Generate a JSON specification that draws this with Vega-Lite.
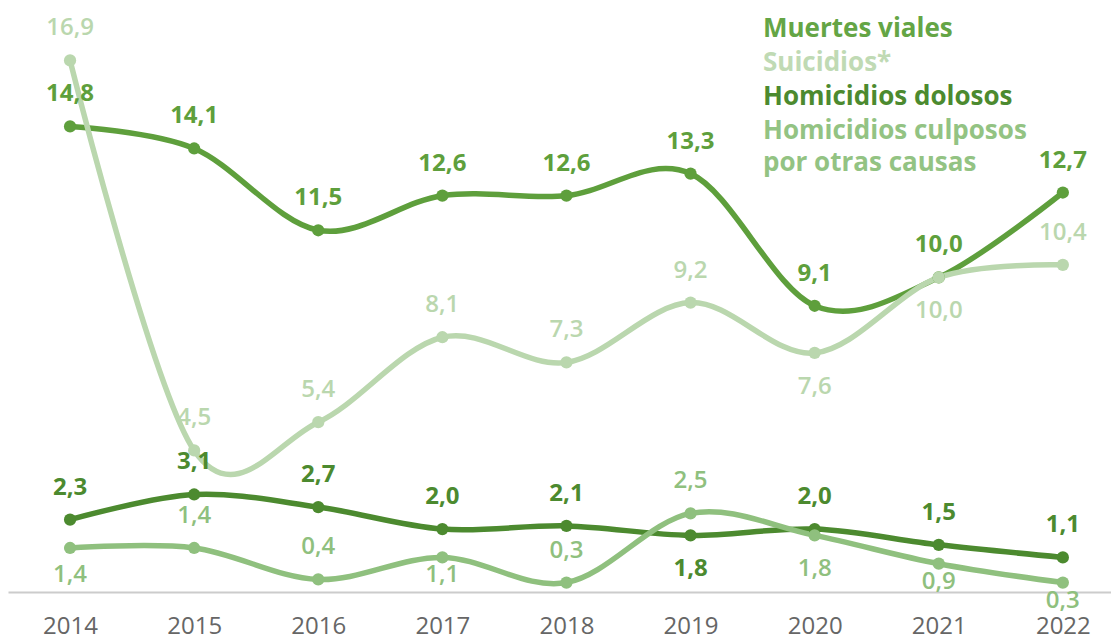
{
  "$schema": "https://vega.github.io/schema/vega-lite/v6.json",
  "width": 1103,
  "height": 592,
  "autosize": {"type": "none"},
  "padding": {"left": 8, "top": 0, "right": 0, "bottom": 49},
  "background": "white",
  "config": {
    "view": {"stroke": null},
    "locale": {"number": {"decimal": ",", "thousands": ".", "grouping": [3], "currency": ["", " €"]}},
    "font": "Open Sans"
  },
  "data": {"values": [
    {"anio": 2014, "serie": "Muertes viales", "valor": 14.8},
    {"anio": 2015, "serie": "Muertes viales", "valor": 14.1},
    {"anio": 2016, "serie": "Muertes viales", "valor": 11.5},
    {"anio": 2017, "serie": "Muertes viales", "valor": 12.6},
    {"anio": 2018, "serie": "Muertes viales", "valor": 12.6},
    {"anio": 2019, "serie": "Muertes viales", "valor": 13.3},
    {"anio": 2020, "serie": "Muertes viales", "valor": 9.1},
    {"anio": 2021, "serie": "Muertes viales", "valor": 10.0},
    {"anio": 2022, "serie": "Muertes viales", "valor": 12.7},
    {"anio": 2014, "serie": "Suicidios", "valor": 16.9},
    {"anio": 2015, "serie": "Suicidios", "valor": 4.5},
    {"anio": 2016, "serie": "Suicidios", "valor": 5.4},
    {"anio": 2017, "serie": "Suicidios", "valor": 8.1},
    {"anio": 2018, "serie": "Suicidios", "valor": 7.3},
    {"anio": 2019, "serie": "Suicidios", "valor": 9.2},
    {"anio": 2020, "serie": "Suicidios", "valor": 7.6},
    {"anio": 2021, "serie": "Suicidios", "valor": 10.0},
    {"anio": 2022, "serie": "Suicidios", "valor": 10.4},
    {"anio": 2014, "serie": "Homicidios dolosos", "valor": 2.3},
    {"anio": 2015, "serie": "Homicidios dolosos", "valor": 3.1},
    {"anio": 2016, "serie": "Homicidios dolosos", "valor": 2.7},
    {"anio": 2017, "serie": "Homicidios dolosos", "valor": 2.0},
    {"anio": 2018, "serie": "Homicidios dolosos", "valor": 2.1},
    {"anio": 2019, "serie": "Homicidios dolosos", "valor": 1.8},
    {"anio": 2020, "serie": "Homicidios dolosos", "valor": 2.0},
    {"anio": 2021, "serie": "Homicidios dolosos", "valor": 1.5},
    {"anio": 2022, "serie": "Homicidios dolosos", "valor": 1.1},
    {"anio": 2014, "serie": "Homicidios culposos por otras causas", "valor": 1.4},
    {"anio": 2015, "serie": "Homicidios culposos por otras causas", "valor": 1.4},
    {"anio": 2016, "serie": "Homicidios culposos por otras causas", "valor": 0.4},
    {"anio": 2017, "serie": "Homicidios culposos por otras causas", "valor": 1.1},
    {"anio": 2018, "serie": "Homicidios culposos por otras causas", "valor": 0.3},
    {"anio": 2019, "serie": "Homicidios culposos por otras causas", "valor": 2.5},
    {"anio": 2020, "serie": "Homicidios culposos por otras causas", "valor": 1.8},
    {"anio": 2021, "serie": "Homicidios culposos por otras causas", "valor": 0.9},
    {"anio": 2022, "serie": "Homicidios culposos por otras causas", "valor": 0.3}
  ]},
  "encoding": {
    "x": {
      "field": "anio", "type": "quantitative",
      "scale": {"domain": [2013.5, 2022.388], "nice": false, "zero": false},
      "axis": {
        "values": [2014, 2015, 2016, 2017, 2018, 2019, 2020, 2021, 2022],
        "format": "d", "title": null, "grid": false, "ticks": false,
        "labelFontSize": 24, "labelColor": "#666666", "labelFont": "Open Sans",
        "labelPadding": 22, "domainColor": "#cccccc", "domainWidth": 2
      }
    },
    "y": {
      "field": "valor", "type": "quantitative",
      "scale": {"domain": [0, 18.82], "nice": false, "zero": true},
      "axis": null
    },
    "color": {
      "field": "serie", "type": "nominal",
      "scale": {
        "domain": ["Muertes viales", "Suicidios", "Homicidios dolosos", "Homicidios culposos por otras causas"],
        "range": ["#5e9f3c", "#bad7ae", "#4c8a2f", "#8fc07e"]
      },
      "legend": null
    }
  },
  "layer": [
    {
      "mark": {"type": "line", "interpolate": "cardinal", "strokeWidth": 5.5},
      "encoding": {
        "color": {
          "field": "serie", "type": "nominal",
          "legend": {
            "orient": "none", "legendX": 729, "legendY": 16, "padding": 0,
            "title": null, "symbolSize": 0, "symbolStrokeWidth": 0, "symbolOpacity": 0,
            "labelOffset": 0, "labelLimit": 500, "labelFontSize": 26, "labelFont": "Open Sans",
            "labelFontWeight": "bold", "rowPadding": 8,
            "labelExpr": "datum.label == 'Suicidios' ? 'Suicidios*' : (datum.label == 'Homicidios culposos por otras causas' ? ['Homicidios culposos', 'por otras causas'] : datum.label)",
            "labelColor": {"expr": "datum.value == 'Muertes viales' ? '#64a545' : (datum.value == 'Suicidios' ? '#c0dab4' : (datum.value == 'Homicidios dolosos' ? '#4c8a2f' : '#93c383'))"},
            "encode": {"labels": {"update": {"lineHeight": {"value": 32}}}}
          }
        }
      }
    },
    {"mark": {"type": "point", "filled": true, "size": 150, "opacity": 1}},
    {
      "transform": [{"filter": "(datum.serie == 'Muertes viales') || (datum.serie == 'Homicidios dolosos' && datum.anio != 2019)"}],
      "mark": {"type": "text", "fontSize": 24, "fontWeight": "bold", "baseline": "alphabetic", "dy": -25},
      "encoding": {"text": {"field": "valor", "type": "quantitative", "format": ".1f"}}
    },
    {
      "transform": [{"filter": "datum.serie == 'Homicidios dolosos' && datum.anio == 2019"}],
      "mark": {"type": "text", "fontSize": 24, "fontWeight": "bold", "baseline": "alphabetic", "dy": 41},
      "encoding": {"text": {"field": "valor", "type": "quantitative", "format": ".1f"}}
    },
    {
      "transform": [{"filter": "(datum.serie == 'Suicidios' && datum.anio != 2020 && datum.anio != 2021) || (datum.serie == 'Homicidios culposos por otras causas' && (datum.anio == 2015 || datum.anio == 2016 || datum.anio == 2018 || datum.anio == 2019))"}],
      "mark": {"type": "text", "fontSize": 24, "fontWeight": 600, "baseline": "alphabetic", "dy": -25},
      "encoding": {"text": {"field": "valor", "type": "quantitative", "format": ".1f"}}
    },
    {
      "transform": [{"filter": "(datum.serie == 'Suicidios' && (datum.anio == 2020 || datum.anio == 2021)) || (datum.serie == 'Homicidios culposos por otras causas' && datum.anio == 2020)"}],
      "mark": {"type": "text", "fontSize": 24, "fontWeight": 600, "baseline": "alphabetic", "dy": 41},
      "encoding": {"text": {"field": "valor", "type": "quantitative", "format": ".1f"}}
    },
    {
      "transform": [{"filter": "datum.serie == 'Homicidios culposos por otras causas' && (datum.anio == 2017 || datum.anio == 2021 || datum.anio == 2022)"}],
      "mark": {"type": "text", "fontSize": 24, "fontWeight": 600, "baseline": "alphabetic", "dy": 25},
      "encoding": {"text": {"field": "valor", "type": "quantitative", "format": ".1f"}}
    },
    {
      "transform": [{"filter": "datum.serie == 'Homicidios culposos por otras causas' && datum.anio == 2014"}],
      "mark": {"type": "text", "fontSize": 24, "fontWeight": 600, "baseline": "alphabetic", "dy": 34},
      "encoding": {"text": {"field": "valor", "type": "quantitative", "format": ".1f"}}
    }
  ]
}
